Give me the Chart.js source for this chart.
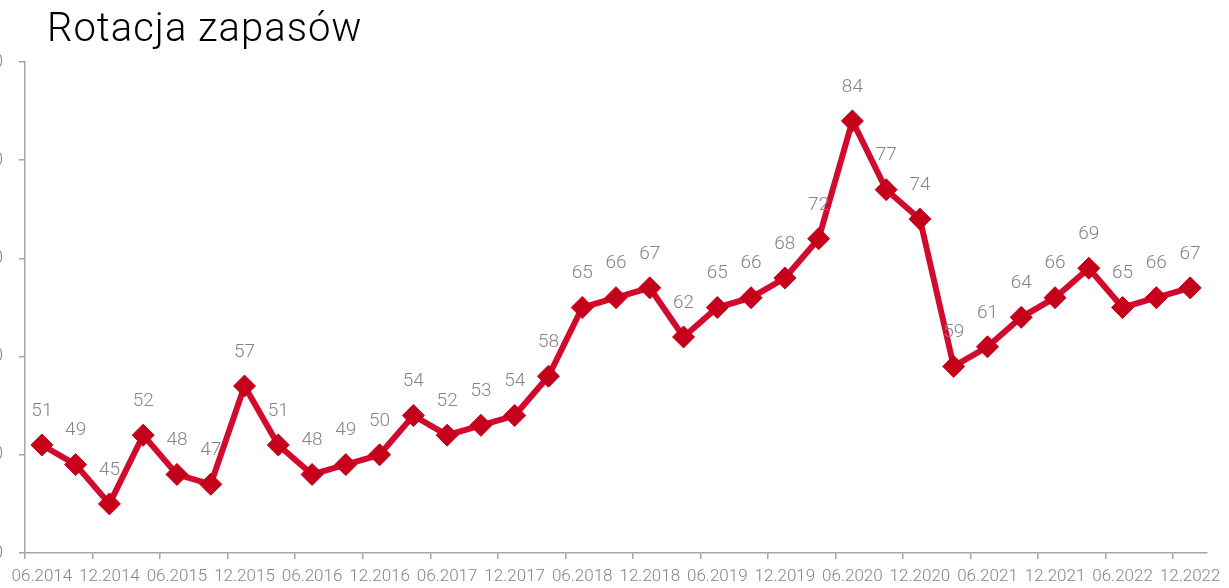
<!DOCTYPE html>
<html>
<head>
<meta charset="utf-8">
<script src="https://cdn.jsdelivr.net/npm/chart.js@4"></script>
<style>
  html, body { margin: 0; padding: 0; background: #fff; overflow: hidden; }
  #title { position: absolute; left: 47px; top: 4px; font-family: Roboto, sans-serif; font-weight: 300; font-size: 40px; letter-spacing: 1px; color: #000; white-space: nowrap; }
  #wrap { position: absolute; left: -35px; top: 0; width: 1264px; height: 588px; }
</style>
</head>
<body>
<div id="wrap"><canvas id="chart"></canvas></div>
<div id="title">Rotacja zapasów</div>
<script>
// quarters 06.2014 - 12.2022
const quarters = [
  "06.2014", "09.2014", "12.2014", "03.2015", "06.2015", "09.2015", "12.2015", "03.2016",
  "06.2016", "09.2016", "12.2016", "03.2017", "06.2017", "09.2017", "12.2017", "03.2018",
  "06.2018", "09.2018", "12.2018", "03.2019", "06.2019", "09.2019", "12.2019", "03.2020",
  "06.2020", "09.2020", "12.2020", "03.2021", "06.2021", "09.2021", "12.2021", "03.2022",
  "06.2022", "09.2022", "12.2022"
];
const rotation = [
  51, 49, 45, 52, 48, 47, 57, 51,
  48, 49, 50, 54, 52, 53, 54, 58,
  65, 66, 67, 62, 65, 66, 68, 72,
  84, 77, 74, 59, 61, 64, 66, 69,
  65, 66, 67
];
const yTicks = [40, 50, 60, 70, 80, 90];

const axisColor = "#a6a6a6";
const textColor = "#858585";

//value labels above the markers
const valueLabels = {
  id: "valueLabels",
  afterDatasetsDraw(chart) {
    let ctx = chart.ctx;
    let meta = chart.getDatasetMeta(0);
    ctx.save();
    ctx.font = "300 19px Roboto";
    ctx.fillStyle = textColor;
    ctx.textAlign = "center";
    ctx.textBaseline = "middle";
    meta.data.forEach((pt, i) => {
      ctx.fillText(rotation[i], pt.x, pt.y - 34);
    });
    ctx.restore();
  }
};

new Chart(document.getElementById("chart"), {
  type: "line",
  data: {
    labels: quarters,
    datasets: [{
      data: rotation,
      borderColor: "#d20a2e",
      borderWidth: 6,
      tension: 0,
      pointStyle: "rectRot",
      pointRadius: 11,
      pointHoverRadius: 11,
      pointBackgroundColor: "#c4001a",
      pointBorderColor: "#c4001a",
      pointBorderWidth: 1
    }]
  },
  options: {
    responsive: true,
    maintainAspectRatio: false,
    animation: false,
    layout: { padding: { top: 62, right: 22, left: 0, bottom: 0 } },
    plugins: {
      legend: { display: false },
      tooltip: { enabled: false }
    },
    scales: {
      x: {
        offset: true,
        afterFit(scale) { scale.height = 35; },
        grid: {
          offset: true,
          drawOnChartArea: false,
          tickLength: 6,
          color: (c) => (c.index % 2 == 0 ? axisColor : "rgba(0,0,0,0)"),
          lineWidth: 1.5
        },
        border: { color: axisColor, width: 1.5 },
        ticks: {
          autoSkip: false,
          maxRotation: 0,
          padding: 8,
          color: textColor,
          font: { family: "Roboto", weight: 300, size: 17 },
          callback: function (v, i) { return i % 2 == 0 ? quarters[i] : ""; }
        }
      },
      y: {
        min: yTicks[0],
        max: yTicks[yTicks.length - 1],
        afterFit(scale) { scale.width = 60; },
        afterBuildTicks(scale) { scale.ticks = yTicks.map(v => ({ value: v })); },
        grid: { drawOnChartArea: false, tickLength: 6, color: axisColor, lineWidth: 1.5 },
        border: { color: axisColor, width: 1.5 },
        ticks: {
          padding: 16,
          color: textColor,
          font: { family: "Roboto", weight: 300, size: 18 }
        }
      }
    }
  },
  plugins: [valueLabels]
});
</script>
</body>
</html>
